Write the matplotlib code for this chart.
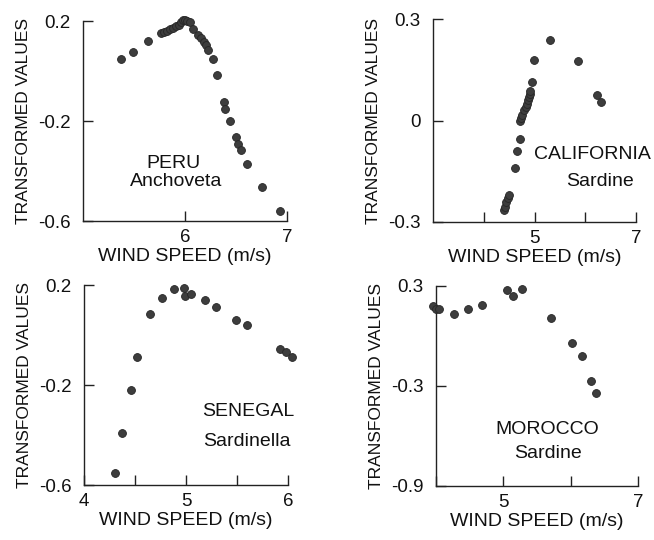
import matplotlib
matplotlib.use("Agg")
import matplotlib.pyplot as plt

plt.rcParams['font.family'] = ['Liberation Sans', 'DejaVu Sans']

# ---------------- data ----------------
peru_x = [5.37, 5.49, 5.64, 5.76, 5.79, 5.82, 5.85, 5.88, 5.91, 5.94, 5.96, 5.98, 6.00, 6.02,
          6.05, 6.08, 6.13, 6.16, 6.19, 6.21, 6.23, 6.27, 6.31, 6.38, 6.39, 6.44, 6.50, 6.52,
          6.55, 6.61, 6.75, 6.93]
peru_y = [0.047, 0.075, 0.12, 0.152, 0.155, 0.162, 0.168, 0.174, 0.18, 0.186, 0.195, 0.205, 0.205, 0.2,
          0.196, 0.168, 0.145, 0.132, 0.117, 0.103, 0.084, 0.047, -0.015, -0.124, -0.15, -0.2, -0.263, -0.29,
          -0.316, -0.37, -0.463, -0.56]

cal_x = [4.40, 4.42, 4.44, 4.47, 4.50, 4.61, 4.66, 4.71, 4.72, 4.74, 4.76, 4.80, 4.84, 4.86,
         4.88, 4.90, 4.91, 4.92, 4.95, 4.99, 5.31, 5.85, 6.23, 6.31]
cal_y = [-0.265, -0.255, -0.24, -0.23, -0.22, -0.14, -0.09, -0.055, 0.0, 0.008, 0.015, 0.032, 0.039, 0.049,
         0.06, 0.07, 0.079, 0.086, 0.115, 0.18, 0.238, 0.176, 0.074, 0.054]

sen_x = [4.30, 4.37, 4.46, 4.52, 4.65, 4.76, 4.88, 4.98, 4.99, 5.05, 5.19, 5.29, 5.49, 5.60,
         5.92, 5.98, 6.04]
sen_y = [-0.553, -0.39, -0.22, -0.087, 0.084, 0.147, 0.185, 0.189, 0.156, 0.163, 0.14, 0.113, 0.06, 0.04,
         -0.057, -0.067, -0.089]

mor_x = [3.95, 4.00, 4.04, 4.26, 4.47, 4.68, 5.06, 5.14, 5.28, 5.71, 6.02, 6.17, 6.30, 6.37]
mor_y = [0.178, 0.164, 0.16, 0.134, 0.16, 0.184, 0.274, 0.238, 0.28, 0.106, -0.042, -0.12, -0.268, -0.34]

peru_xticks = [6, 7];            peru_xlabels = ['6', '7']
peru_yticks = [0.2, -0.2, -0.6]; peru_ylabels = ['0.2', '-0.2', '-0.6']
cal_xticks = [4, 5, 6, 7];       cal_xlabels = ['', '5', '', '7']
cal_yticks = [0.3, 0.0, -0.3];   cal_ylabels = ['0.3', '0', '-0.3']
sen_xticks = [4, 4.5, 5, 5.5, 6]; sen_xlabels = ['4', '', '5', '', '6']
sen_yticks = [0.2, -0.2, -0.6];  sen_ylabels = ['0.2', '-0.2', '-0.6']
mor_xticks = [4, 5, 6, 7];       mor_xlabels = ['', '5', '', '7']
mor_yticks = [0.3, -0.3, -0.9];  mor_ylabels = ['0.3', '-0.3', '-0.9']

W, H = 654, 540
fig = plt.figure(figsize=(W / 100, H / 100), dpi=100)
fig.patch.set_facecolor('white')


def make_ax(left, right, top, bottom):
    return fig.add_axes([left / W, 1 - bottom / H, (right - left) / W, (bottom - top) / H])


panels = [
    dict(box=(83, 287, 21, 221), x=peru_x, y=peru_y, xlim=(5, 7), ylim=(-0.6, 0.2),
         xt=peru_xticks, xl=peru_xlabels, yt=peru_yticks, yl=peru_ylabels,
         texts=[("PERU", 173, 163), ("Anchoveta", 176, 182)]),
    dict(box=(433, 636, 19, 222), x=cal_x, y=cal_y, xlim=(3, 7), ylim=(-0.3, 0.3),
         xt=cal_xticks, xl=cal_xlabels, yt=cal_yticks, yl=cal_ylabels,
         texts=[("CALIFORNIA", 592, 155), ("Sardine", 600, 182)]),
    dict(box=(84, 288, 285, 485), x=sen_x, y=sen_y, xlim=(4, 6), ylim=(-0.6, 0.2),
         xt=sen_xticks, xl=sen_xlabels, yt=sen_yticks, yl=sen_ylabels,
         texts=[("SENEGAL", 248, 412), ("Sardinella", 247, 441)]),
    dict(box=(436, 638, 286, 486), x=mor_x, y=mor_y, xlim=(4, 7), ylim=(-0.9, 0.3),
         xt=mor_xticks, xl=mor_xlabels, yt=mor_yticks, yl=mor_ylabels,
         texts=[("MOROCCO", 547, 429), ("Sardine", 548, 453)]),
]

for p in panels:
    ax = make_ax(*p['box'])
    ax.scatter(p['x'], p['y'], s=32, color='#3d3d3d', edgecolors='#262626',
               linewidths=0.6, clip_on=False, zorder=3)
    ax.set_xlim(*p['xlim'])
    ax.set_ylim(*p['ylim'])
    ax.set_xticks(p['xt'])
    ax.set_xticklabels(p['xl'])
    ax.set_yticks(p['yt'])
    ax.set_yticklabels(p['yl'])
    for s in ('top', 'right'):
        ax.spines[s].set_visible(False)
    for s in ('left', 'bottom'):
        ax.spines[s].set_linewidth(1.0)
        ax.spines[s].set_color('#222222')
    ax.tick_params(direction='in', length=7, width=1.0, color='#222222',
                   labelsize=13.5, labelcolor='#111111')
    ax.tick_params(axis='x', pad=6)
    ax.tick_params(axis='y', pad=9)
    ax.set_xlabel('WIND SPEED (m/s)', fontsize=14, color='#111111', labelpad=1)
    ax.set_ylabel('TRANSFORMED VALUES', fontsize=12.5, color='#111111', labelpad=5)
    for t, px, py in p['texts']:
        fig.text(px / W, 1 - py / H, t, ha='center', va='center', fontsize=14, color='#111111')

fig.savefig('out.png', dpi=100, facecolor='white')
